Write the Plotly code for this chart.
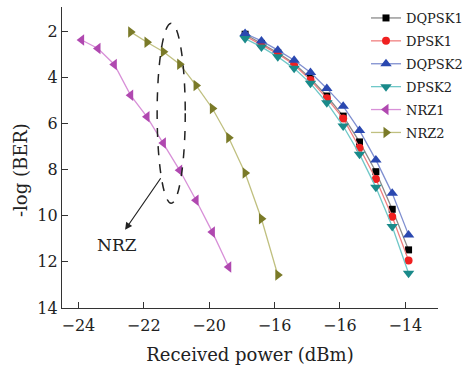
import plotly.graph_objects as go

# ---- data ----
x_psk = [-18.9, -18.4, -17.9, -17.4, -16.9, -16.4, -15.9, -15.4, -14.9, -14.4, -13.9]
dqpsk1 = [2.13, 2.53, 2.94, 3.40, 4.05, 4.81, 5.68, 6.80, 8.09, 9.72, 11.48]
dpsk1 = [2.20, 2.60, 2.98, 3.45, 4.12, 4.91, 5.78, 7.05, 8.41, 10.04, 11.94]
dqpsk2 = [2.10, 2.42, 2.82, 3.26, 3.79, 4.48, 5.25, 6.30, 7.58, 9.03, 10.83]
dpsk2 = [2.32, 2.68, 3.11, 3.61, 4.26, 5.10, 6.11, 7.33, 8.77, 10.47, 12.49]

x_nrz1 = [-23.9, -23.4, -22.9, -22.4, -21.9, -21.4, -20.9, -20.4, -19.9, -19.4]
nrz1 = [2.38, 2.75, 3.44, 4.78, 5.71, 6.85, 8.03, 9.33, 10.71, 12.22]

x_nrz2 = [-22.4, -21.9, -21.4, -20.9, -20.4, -19.9, -19.4, -18.9, -18.4, -17.9]
nrz2 = [2.03, 2.48, 2.89, 3.43, 4.35, 5.35, 6.62, 8.15, 10.13, 12.57]

x_tickvals = [-24, -22, -20, -18, -16, -14]
x_ticktext = ["\u221224", "\u221222", "\u221220", "\u221216", "\u221216", "\u221214"]
y_tickvals = [2, 4, 6, 8, 10, 12, 14]

FONT = "DejaVu Serif"
W, H = 470, 368
ML, MR, MT, MB = 62, 32, 7, 60
PW = W - ML - MR
PH = H - MT - MB


def px_x(p):
    return (p - ML) / PW


def px_y(p):
    return (H - MB - p) / PH


series = [
    ("DQPSK1", x_psk, dqpsk1, "square", "#000000", "#8a8a8a", 7),
    ("DPSK1", x_psk, dpsk1, "circle", "#f02020", "#f08080", 8),
    ("DQPSK2", x_psk, dqpsk2, "triangle-up", "#2a48b0", "#7f8fd0", 10),
    ("DPSK2", x_psk, dpsk2, "triangle-down", "#1a8a8a", "#70c8c8", 10),
    ("NRZ1", x_nrz1, nrz1, "triangle-left", "#b048b0", "#d890d8", 10),
    ("NRZ2", x_nrz2, nrz2, "triangle-right", "#7a7a28", "#c0c080", 10),
]

fig = go.Figure()
for name, xs, ys, sym, mc, lc, ms in series:
    fig.add_trace(go.Scatter(
        x=xs, y=ys, name=name, mode="lines+markers", legendgroup=name,
        line=dict(color=lc, width=1.3),
        marker=dict(symbol=sym, color=mc, size=ms),
    ))

# dashed ellipse around NRZ curves
fig.add_shape(type="circle", xref="x", yref="y",
              x0=-21.59, x1=-20.73, y0=1.65, y1=9.46,
              line=dict(color="#222222", width=1.5, dash="dash"))

# arrow + label
fig.add_annotation(x=-22.57, y=10.61, ax=-21.45, ay=8.31, axref="x", ayref="y",
                   xref="x", yref="y", text="", showarrow=True,
                   arrowhead=2, arrowsize=1.2, arrowwidth=1.2, arrowcolor="#222222")
fig.add_annotation(x=-22.82, y=11.26, xref="x", yref="y", text="NRZ",
                   showarrow=False, font=dict(family=FONT, size=17, color="#222222"))

# y title
fig.add_annotation(x=px_x(20), y=px_y(170), xref="paper", yref="paper", text="-log (BER)",
                   xanchor="center", yanchor="middle",
                   showarrow=False, textangle=-90,
                   font=dict(family=FONT, size=18, color="#222222"))

fig.update_layout(
    width=W, height=H,
    margin=dict(l=ML, r=MR, t=MT, b=MB, autoexpand=False),
    paper_bgcolor="white", plot_bgcolor="white",
    font=dict(family=FONT, size=16, color="#222222"),
    showlegend=True,
    legend=dict(x=px_x(366), y=px_y(3), xanchor="left", yanchor="top",
                tracegroupgap=3,
                bgcolor="rgba(0,0,0,0)", font=dict(family=FONT, size=13, color="#222222")),
    xaxis=dict(range=[-24.5, -13.0], tickvals=x_tickvals, ticktext=x_ticktext,
               showline=True, linecolor="#333333", linewidth=1.2,
               ticks="inside", ticklen=6, tickcolor="#333333", ticklabelstandoff=3,
               showgrid=False, zeroline=False,
               title=dict(text="Received power (dBm)", font=dict(family=FONT, size=18), standoff=14)),
    yaxis=dict(range=[14, 0.95], tickvals=y_tickvals,
               showline=True, linecolor="#333333", linewidth=1.2,
               ticks="inside", ticklen=6, tickcolor="#333333",
               showgrid=False, zeroline=False),
)

fig.write_html("out.html", config={"displayModeBar": False},
               post_script="document.body.style.margin='0';document.body.style.overflow='hidden';")
